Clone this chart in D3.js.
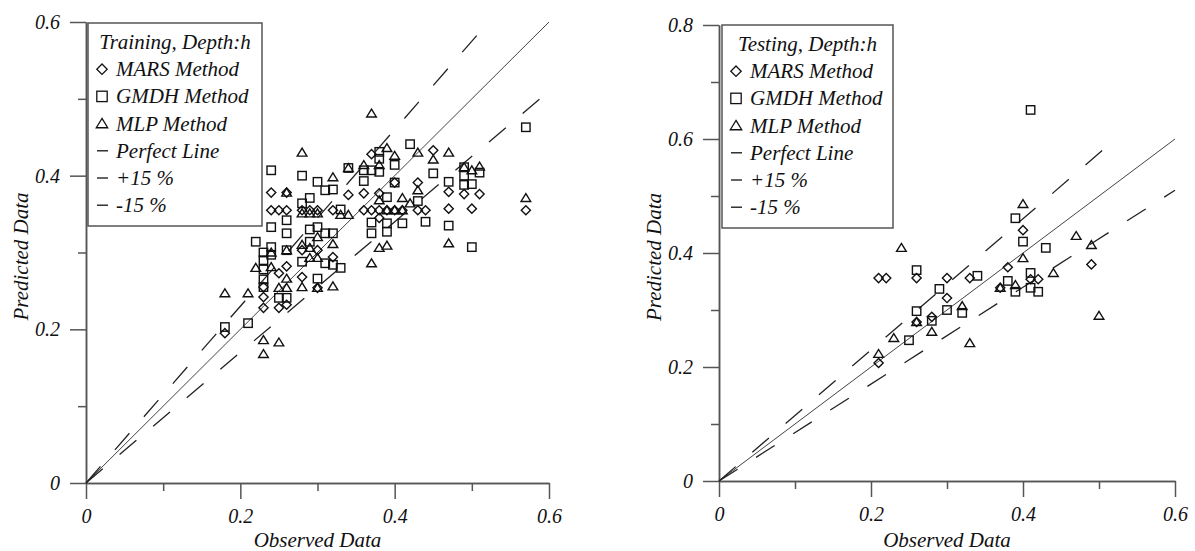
<!DOCTYPE html>
<html>
<head>
<meta charset="utf-8">
<script src="https://cdn.jsdelivr.net/npm/d3@7"></script>
<style>
  body { margin: 0; background: #fff; }
  text { font-family: "Liberation Serif", "Times New Roman", serif; font-style: italic; fill: #111; }
</style>
</head>
<body>
<div id="chart"></div>
<script>
// training set, [observed, predicted]
var trainMARS = [[0.18,0.195],[0.22,0.37],[0.23,0.228],[0.23,0.242],[0.24,0.378],[0.24,0.355],[0.25,0.355],
  [0.26,0.355],[0.26,0.378],[0.26,0.282],[0.25,0.273],[0.25,0.228],[0.26,0.232],[0.28,0.303],[0.28,0.268],
  [0.28,0.355],[0.29,0.355],[0.30,0.355],[0.30,0.254],[0.32,0.355],[0.32,0.294],[0.34,0.375],[0.36,0.377],
  [0.36,0.355],[0.37,0.428],[0.37,0.355],[0.38,0.377],[0.38,0.355],[0.38,0.345],[0.39,0.355],[0.40,0.355],
  [0.40,0.391],[0.41,0.355],[0.43,0.391],[0.43,0.355],[0.44,0.355],[0.45,0.433],[0.47,0.379],[0.47,0.357],
  [0.49,0.376],[0.50,0.357],[0.51,0.376],[0.57,0.355],[0.30,0.303],[0.23,0.255]];
var trainGMDH = [[0.18,0.203],[0.21,0.208],[0.22,0.394],[0.22,0.314],[0.23,0.30],[0.23,0.29],[0.23,0.278],
  [0.23,0.265],[0.23,0.255],[0.24,0.407],[0.24,0.333],[0.24,0.307],[0.24,0.297],[0.25,0.241],[0.26,0.241],
  [0.26,0.342],[0.26,0.325],[0.26,0.303],[0.28,0.364],[0.28,0.288],[0.28,0.40],[0.29,0.371],[0.29,0.33],
  [0.29,0.314],[0.30,0.333],[0.30,0.392],[0.30,0.266],[0.31,0.381],[0.31,0.325],[0.31,0.286],[0.32,0.382],
  [0.32,0.325],[0.32,0.284],[0.33,0.356],[0.33,0.28],[0.34,0.41],[0.36,0.393],[0.36,0.407],[0.37,0.407],
  [0.37,0.339],[0.37,0.325],[0.38,0.431],[0.38,0.422],[0.38,0.405],[0.39,0.372],[0.39,0.338],[0.39,0.327],
  [0.40,0.414],[0.40,0.391],[0.41,0.338],[0.42,0.441],[0.43,0.367],[0.44,0.34],[0.45,0.403],[0.47,0.392],
  [0.47,0.335],[0.49,0.40],[0.49,0.411],[0.49,0.388],[0.50,0.389],[0.50,0.307],[0.51,0.404],[0.57,0.463]];
var trainMLP = [[0.18,0.247],[0.21,0.247],[0.22,0.41],[0.22,0.28],[0.23,0.186],[0.23,0.168],[0.24,0.281],
  [0.24,0.30],[0.25,0.183],[0.25,0.254],[0.26,0.254],[0.26,0.266],[0.26,0.378],[0.26,0.303],[0.28,0.43],
  [0.28,0.351],[0.28,0.255],[0.28,0.31],[0.29,0.351],[0.29,0.306],[0.29,0.293],[0.30,0.351],[0.30,0.293],
  [0.30,0.32],[0.30,0.254],[0.32,0.398],[0.32,0.311],[0.32,0.256],[0.33,0.349],[0.34,0.349],[0.34,0.41],
  [0.36,0.414],[0.37,0.481],[0.37,0.286],[0.38,0.414],[0.38,0.368],[0.38,0.306],[0.39,0.436],[0.39,0.309],
  [0.39,0.355],[0.40,0.426],[0.40,0.355],[0.41,0.371],[0.41,0.355],[0.42,0.364],[0.43,0.43],[0.43,0.381],
  [0.45,0.421],[0.47,0.43],[0.47,0.312],[0.49,0.411],[0.50,0.407],[0.51,0.412],[0.57,0.371]];

// testing set
var testMARS = [[0.21,0.207],[0.21,0.356],[0.22,0.356],[0.26,0.356],[0.26,0.279],[0.28,0.288],[0.30,0.356],
  [0.30,0.321],[0.33,0.356],[0.37,0.339],[0.38,0.375],[0.40,0.44],[0.41,0.354],[0.42,0.354],[0.49,0.38]];
var testGMDH = [[0.25,0.247],[0.26,0.37],[0.26,0.298],[0.28,0.281],[0.29,0.337],[0.30,0.30],[0.32,0.295],
  [0.34,0.36],[0.38,0.351],[0.39,0.332],[0.39,0.461],[0.40,0.42],[0.41,0.651],[0.41,0.365],[0.41,0.339],
  [0.42,0.332],[0.43,0.409]];
var testMLP = [[0.21,0.223],[0.23,0.251],[0.24,0.409],[0.26,0.279],[0.28,0.262],[0.32,0.307],[0.33,0.242],
  [0.37,0.339],[0.39,0.344],[0.40,0.391],[0.40,0.486],[0.44,0.365],[0.47,0.43],[0.49,0.414],[0.50,0.29]];

var legendLabels = ["MARS Method", "GMDH Method", "MLP Method", "Perfect Line", "+15 %", "-15 %"];
var xTicks = [0, 0.2, 0.4, 0.6];
var xMinor = [0.1, 0.3, 0.5];

var width = 1195, height = 551;

var svg = d3.select("#chart").append("svg")
    .attr("width", width)
    .attr("height", height);

var fmt = function(d) { return d === 0 ? "0" : d3.format(".1f")(d); };

function marker(g, type, s) {
    if (type === "diamond") {
        g.append("path").attr("d", "M0," + (-s) + "L" + s + ",0L0," + s + "L" + (-s) + ",0Z");
    } else if (type === "square") {
        g.append("rect").attr("x", -s).attr("y", -s).attr("width", 2 * s).attr("height", 2 * s);
    } else {
        g.append("path").attr("d", "M0," + (-s) + "L" + (s * 1.1) + "," + (s * 0.8) + "L" + (-s * 1.1) + "," + (s * 0.8) + "Z");
    }
}

function panel(opt) {
    var x = d3.scaleLinear().domain([0, 0.6]).range([opt.left, opt.right]);
    var y = d3.scaleLinear().domain([0, opt.ymax]).range([opt.bottom, opt.top]);
    var g = svg.append("g");

    // axes, long ticks with labels every 0.2, short ones in between
    var yMajor = d3.range(0, opt.ymax + 0.001, 0.2);
    var yMinor = d3.range(0.1, opt.ymax, 0.2);

    g.append("g").attr("transform", "translate(" + opt.left + ",0)")
        .call(d3.axisLeft(y).tickValues(yMajor).tickSize(16).tickSizeOuter(0).tickPadding(10).tickFormat(fmt));
    g.append("g").attr("transform", "translate(" + opt.left + ",0)")
        .call(d3.axisLeft(y).tickValues(yMinor).tickSize(8).tickSizeOuter(0).tickFormat(""));
    g.append("g").attr("transform", "translate(0," + opt.bottom + ")")
        .call(d3.axisBottom(x).tickValues(xTicks).tickSize(16).tickSizeOuter(0).tickPadding(10).tickFormat(fmt));
    g.append("g").attr("transform", "translate(0," + opt.bottom + ")")
        .call(d3.axisBottom(x).tickValues(xMinor).tickSize(8).tickSizeOuter(0).tickFormat(""));

    g.selectAll(".domain, .tick line").attr("stroke", "#555").attr("stroke-width", 1.5);
    g.selectAll(".tick text").attr("font-size", 20).attr("fill", "#111");

    // reference lines, stop where they reach 0.6
    var lines = [
        { k: 1.0, dash: null, w: 1, c: "#444" },
        { k: 1.15, dash: "22,22", w: 1.3, c: "#222" },
        { k: 0.85, dash: "22,22", w: 1.3, c: "#222" }
    ];
    lines.forEach(function(l) {
        var xe = Math.min(0.6, 0.6 / l.k);
        g.append("line")
            .attr("x1", x(0)).attr("y1", y(0))
            .attr("x2", x(xe)).attr("y2", y(xe * l.k))
            .attr("stroke", l.c).attr("stroke-width", l.w)
            .attr("stroke-dasharray", l.dash);
    });

    // points
    var series = [
        { data: opt.mars, type: "diamond", s: 4.6 },
        { data: opt.gmdh, type: "square", s: 4.2 },
        { data: opt.mlp, type: "triangle", s: 4.4 }
    ];
    series.forEach(function(sr) {
        g.selectAll(null).data(sr.data).enter().append("g")
            .attr("transform", function(d) { return "translate(" + x(d[0]) + "," + y(d[1]) + ")"; })
            .attr("fill", "none").attr("stroke", "#111").attr("stroke-width", 1.4)
            .each(function() { marker(d3.select(this), sr.type, sr.s); });
    });

    // axis titles
    g.append("text").attr("x", (opt.left + opt.right) / 2).attr("y", 547)
        .attr("text-anchor", "middle").attr("font-size", 21).text("Observed Data");
    g.append("text")
        .attr("transform", "translate(" + (opt.left - 58) + "," + ((opt.top + opt.bottom) / 2 + 4) + ") rotate(-90)")
        .attr("text-anchor", "middle").attr("font-size", 21).text("Predicted Data");

    // legend
    var lg = g.append("g").attr("transform", "translate(" + opt.legX + "," + opt.legY + ")");
    lg.append("rect").attr("x", 0).attr("y", 0).attr("width", opt.legW).attr("height", 203)
        .attr("fill", "#fff").attr("stroke", "#555").attr("stroke-width", 1.5);
    lg.append("text").attr("x", opt.legW / 2).attr("y", 26).attr("text-anchor", "middle")
        .attr("font-size", 21).text(opt.title);
    var types = ["diamond", "square", "triangle"];
    legendLabels.forEach(function(lab, i) {
        var by = 26 + 27.2 * (i + 1);
        lg.append("text").attr("x", 28).attr("y", by).attr("font-size", 21).text(lab);
        if (i < 3) {
            var m = lg.append("g").attr("transform", "translate(14," + (by - 7) + ")")
                .attr("fill", "none").attr("stroke", "#111").attr("stroke-width", 1.3);
            marker(m, types[i], 5.2);
        } else {
            lg.append("line").attr("x1", 9).attr("x2", 20).attr("y1", by - 7).attr("y2", by - 7)
                .attr("stroke", "#111").attr("stroke-width", 1.3);
        }
    });
}

panel({ left: 86, right: 549, top: 22, bottom: 483, ymax: 0.6,
        mars: trainMARS, gmdh: trainGMDH, mlp: trainMLP,
        title: "Training, Depth:h", legX: 88, legY: 23, legW: 174 });
panel({ left: 719, right: 1175, top: 25, bottom: 481, ymax: 0.8,
        mars: testMARS, gmdh: testGMDH, mlp: testMLP,
        title: "Testing, Depth:h", legX: 722, legY: 25, legW: 171 });
</script>
</body>
</html>
